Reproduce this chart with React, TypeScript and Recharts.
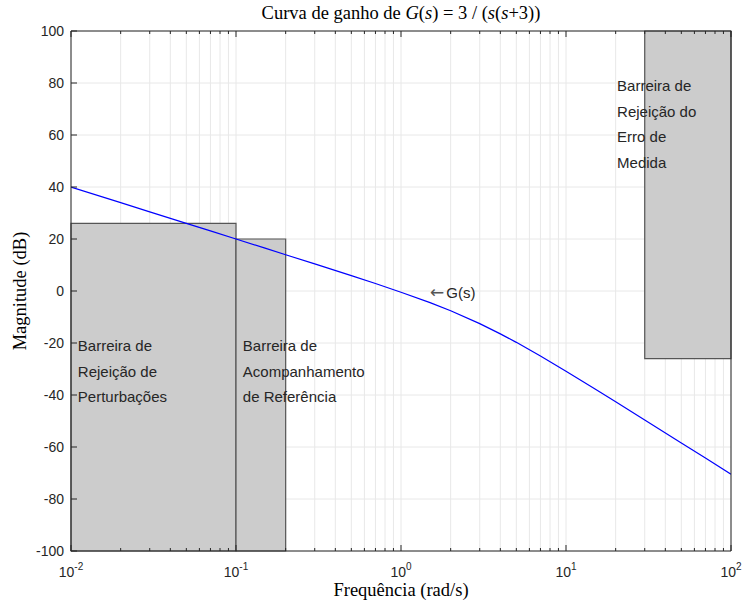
import React from 'react';
import {
  ComposedChart,
  Line,
  XAxis,
  YAxis,
  CartesianGrid,
  ReferenceArea,
  ReferenceDot,
  Label,
} from 'recharts';

// ---- data ----
const frequencies = [0.01, 0.02, 0.03, 0.05, 0.07, 0.1, 0.15, 0.2, 0.3, 0.5, 0.7, 1, 1.5, 2, 3, 4, 5, 7, 10, 15, 20, 30, 50, 70, 100];
const magnitudesDb = [40.0, 33.98, 30.46, 26.02, 23.1, 19.99, 16.47, 13.96, 10.41, 5.9, 2.87, -0.46, -4.49, -7.62, -12.55, -16.48, -19.75, -24.99, -30.83, -37.67, -42.6, -49.59, -58.43, -64.27, -70.46];

const majorXTicks = [0.01, 0.1, 1, 10, 100];
const majorXExponents = ['-2', '-1', '0', '1', '2'];
const minorXTicks = [
  0.02, 0.03, 0.04, 0.05, 0.06, 0.07, 0.08, 0.09,
  0.2, 0.3, 0.4, 0.5, 0.6, 0.7, 0.8, 0.9,
  2, 3, 4, 5, 6, 7, 8, 9,
  20, 30, 40, 50, 60, 70, 80, 90,
];
const yTicks = [-100, -80, -60, -40, -20, 0, 20, 40, 60, 80, 100];

const barrierX1 = [0.01, 0.1, 30];
const barrierX2 = [0.1, 0.2, 100];
const barrierY1 = [-100, -100, -26];
const barrierY2 = [26, 20, 100];
const barrierLabelX = [0.011, 0.11, 20.4];
const barrierLabelY = [-31, -31, 64];
const barrierLabels = [
  ['Barreira de', 'Rejeição de', 'Perturbações'],
  ['Barreira de', 'Acompanhamento', 'de Referência'],
  ['Barreira de', 'Rejeição do', 'Erro de', 'Medida'],
];

const curveArrow = '\u2190';
const curveLabel = 'G(s)';
const curveLabelX = 1.5;
const curveLabelY = -0.8;

const titleText = 'Curva de ganho de ';
const xAxisTitle = 'Frequência (rad/s)';
const yAxisTitle = 'Magnitude (dB)';

// ---- derived table ----
const chartData = frequencies.map((f, i) => ({ freq: f, mag: magnitudesDb[i] }));
const allXTicks = [...majorXTicks, ...minorXTicks].sort((a, b) => a - b);

const AXIS_COLOR = '#262626';
const SANS = 'Liberation Sans, Arial, Helvetica, sans-serif';
const SERIF = 'Liberation Serif, Times New Roman, serif';

const BottomTick = (props: any) => {
  const { x, y, payload } = props;
  const idx = majorXTicks.indexOf(payload.value);
  const major = idx >= 0;
  return (
    <g>
      <line x1={x} x2={x} y1={y} y2={y - (major ? 6 : 3)} stroke={AXIS_COLOR} strokeWidth={1} />
      {major && (
        <text x={x} y={y + 26} textAnchor="middle" fontFamily={SANS} fontSize={14} fill={AXIS_COLOR}>
          10
          <tspan dy={-7} fontSize={10}>{majorXExponents[idx]}</tspan>
        </text>
      )}
    </g>
  );
};

const TopTick = (props: any) => {
  const { x, y, payload } = props;
  const major = majorXTicks.indexOf(payload.value) >= 0;
  return <line x1={x} x2={x} y1={y} y2={y + (major ? 6 : 3)} stroke={AXIS_COLOR} strokeWidth={1} />;
};

const LeftTick = (props: any) => {
  const { x, y, payload } = props;
  return (
    <g>
      <line x1={x} x2={x + 6} y1={y} y2={y} stroke={AXIS_COLOR} strokeWidth={1} />
      <text x={x - 7} y={y + 5} textAnchor="end" fontFamily={SANS} fontSize={14} fill={AXIS_COLOR}>
        {payload.value}
      </text>
    </g>
  );
};

const RightTick = (props: any) => {
  const { x, y } = props;
  return <line x1={x} x2={x - 6} y1={y} y2={y} stroke={AXIS_COLOR} strokeWidth={1} />;
};

const makeMultiLine = (lines: string[]) => (props: any) => {
  const { cx, cy } = props;
  const lh = 25.7;
  const startY = cy - ((lines.length - 1) * lh) / 2;
  return (
    <text x={cx} y={startY + 5} fontFamily={SANS} fontSize={15} fill="#262626">
      {lines.map((l, i) => (
        <tspan key={i} x={cx} y={startY + 5 + i * lh}>
          {l}
        </tspan>
      ))}
    </text>
  );
};

const CurveLabelShape = (props: any) => {
  const { cx, cy } = props;
  return (
    <text x={cx} y={cy + 5} fontFamily={SANS} fontSize={15} fill="#262626">
      <tspan fontFamily="DejaVu Sans, sans-serif" fontSize={17} fill="#555">{curveArrow}</tspan>
      <tspan dx={2}>{curveLabel}</tspan>
    </text>
  );
};

const TitleContent = (props: any) => {
  const vb = props.viewBox || {};
  const cx = vb.x + vb.width / 2;
  return (
    <text x={cx} y={19} textAnchor="middle" fontFamily={SERIF} fontSize={18.5} fill="#000">
      {titleText}
      <tspan fontStyle="italic">G</tspan>(<tspan fontStyle="italic">s</tspan>) = 3 / (<tspan fontStyle="italic">s</tspan>(<tspan fontStyle="italic">s</tspan>+3))
    </text>
  );
};

const XTitleContent = (props: any) => {
  const vb = props.viewBox || {};
  const cx = vb.x + vb.width / 2;
  return (
    <text x={cx} y={596} textAnchor="middle" fontFamily={SERIF} fontSize={18.5} fill="#000">
      {xAxisTitle}
    </text>
  );
};

const YTitleContent = (props: any) => {
  const vb = props.viewBox || {};
  const cy = vb.y + vb.height / 2;
  return (
    <text x={26} y={cy} textAnchor="middle" fontFamily={SERIF} fontSize={18.5} fill="#000" transform={`rotate(-90 26 ${cy})`}>
      {yAxisTitle}
    </text>
  );
};

export default function App() {
  return (
    <div style={{ position: 'absolute', left: 0, top: 0, width: 745, height: 602, background: '#fff' }}>
      <ComposedChart
        width={745}
        height={602}
        data={chartData}
        margin={{ top: 30, right: 13, bottom: 0, left: 0 }}
      >
        <CartesianGrid stroke="#e8e8e8" strokeWidth={1} />
        <XAxis
          dataKey="freq"
          type="number"
          scale="log"
          domain={[0.01, 100]}
          allowDataOverflow
          ticks={allXTicks}
          interval={0}
          height={51}
          tickSize={0}
          tickMargin={0}
          tickLine={false}
          axisLine={{ stroke: AXIS_COLOR, strokeWidth: 1 }}
          tick={<BottomTick />}
        >
          <Label content={<XTitleContent />} />
        </XAxis>
        <XAxis
          xAxisId="top"
          orientation="top"
          dataKey="freq"
          type="number"
          scale="log"
          domain={[0.01, 100]}
          allowDataOverflow
          ticks={allXTicks}
          interval={0}
          height={1}
          tickSize={0}
          tickMargin={0}
          tickLine={false}
          axisLine={{ stroke: AXIS_COLOR, strokeWidth: 1 }}
          tick={<TopTick />}
        >
          <Label content={<TitleContent />} />
        </XAxis>
        <YAxis
          type="number"
          domain={[-100, 100]}
          ticks={yTicks}
          interval={0}
          width={71}
          tickSize={0}
          tickMargin={0}
          tickLine={false}
          axisLine={{ stroke: AXIS_COLOR, strokeWidth: 1 }}
          tick={<LeftTick />}
        >
          <Label content={<YTitleContent />} />
        </YAxis>
        <YAxis
          yAxisId="right"
          orientation="right"
          type="number"
          domain={[-100, 100]}
          ticks={yTicks}
          interval={0}
          width={1}
          tickSize={0}
          tickMargin={0}
          tickLine={false}
          axisLine={{ stroke: AXIS_COLOR, strokeWidth: 1 }}
          tick={<RightTick />}
        />
        {barrierX1.map((x1, i) => (
          <ReferenceArea
            key={`area-${i}`}
            x1={x1}
            x2={barrierX2[i]}
            y1={barrierY1[i]}
            y2={barrierY2[i]}
            fill="#cccccc"
            fillOpacity={1}
            stroke="#555555"
            strokeWidth={1.2}
            ifOverflow="visible"
          />
        ))}
        <Line
          dataKey="mag"
          type="linear"
          stroke="#0000ff"
          strokeWidth={1.2}
          dot={false}
          isAnimationActive={false}
        />
        {barrierLabels.map((lines, i) => (
          <ReferenceDot
            key={`lbl-${i}`}
            x={barrierLabelX[i]}
            y={barrierLabelY[i]}
            r={0}
            ifOverflow="visible"
            shape={makeMultiLine(lines)}
          />
        ))}
        <ReferenceDot x={curveLabelX} y={curveLabelY} r={0} ifOverflow="visible" shape={<CurveLabelShape />} />
      </ComposedChart>
    </div>
  );
}
